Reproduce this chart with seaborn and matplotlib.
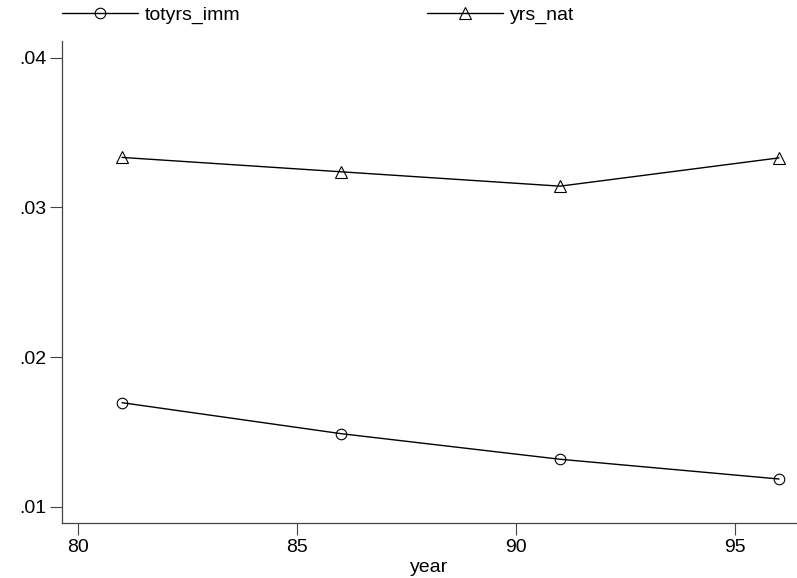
import matplotlib
matplotlib.use("Agg")
import matplotlib.pyplot as plt
import seaborn as sns
import pandas as pd

years = [81, 86, 91, 96]
totyrs_imm = [0.01695, 0.01488, 0.01317, 0.01185]
yrs_nat = [0.03334, 0.03238, 0.03142, 0.03331]
xticks = [80, 85, 90, 95]
yticks = [0.01, 0.02, 0.03, 0.04]
ytick_labels = [".01", ".02", ".03", ".04"]

sns.set_theme(style="white")
plt.rcParams['font.family'] = ['Liberation Sans', 'DejaVu Sans']
plt.rcParams['text.color'] = 'black'
plt.rcParams['axes.labelcolor'] = 'black'
plt.rcParams['xtick.labelcolor'] = 'black'
plt.rcParams['ytick.labelcolor'] = 'black'

fig = plt.figure(figsize=(7.97, 5.78), dpi=100)
ax = fig.add_axes([62/797, 1 - 523/578, 1 - 62/797, (523 - 40.7)/578])

df1 = pd.DataFrame({"year": years, "v": totyrs_imm})
df2 = pd.DataFrame({"year": years, "v": yrs_nat})

sns.lineplot(data=df1, x="year", y="v", ax=ax, color="black", linewidth=1.0,
             marker="o", markersize=7.6, markerfacecolor="none",
             markeredgecolor="black", markeredgewidth=0.8, label="totyrs_imm")
sns.lineplot(data=df2, x="year", y="v", ax=ax, color="black", linewidth=1.0,
             marker="^", markersize=8.0, markerfacecolor="none",
             markeredgecolor="black", markeredgewidth=0.8, label="yrs_nat")

ax.set_xlim(79.63, 96.41)
ax.set_ylim(0.00891, 0.04114)
ax.set_xticks(xticks)
ax.set_xticklabels([str(t) for t in xticks])
ax.set_yticks(yticks)
ax.set_yticklabels(ytick_labels)
ax.set_xlabel("year", fontsize=14, labelpad=2, color="black")
ax.set_ylabel("")

for s in ["top", "right"]:
    ax.spines[s].set_visible(False)
for s in ["left", "bottom"]:
    ax.spines[s].set_color("#444444")
    ax.spines[s].set_linewidth(0.9)

ax.tick_params(axis="both", which="major", length=8.5, width=0.8, color="#444444",
               labelsize=14, labelcolor="black", direction="out", pad=3,
               left=True, bottom=True)

handles, labels = ax.get_legend_handles_labels()
ax.get_legend().remove()
leg = fig.legend(handles, labels, loc="center left",
                 bbox_to_anchor=(62/797, 1 - 15/578), ncol=2, frameon=False,
                 fontsize=14, handlelength=3.9, handletextpad=0.36,
                 columnspacing=9.6, borderpad=0, borderaxespad=0)
for t in leg.get_texts():
    t.set_color("black")

fig.savefig("out.png", dpi=100, facecolor="white")
